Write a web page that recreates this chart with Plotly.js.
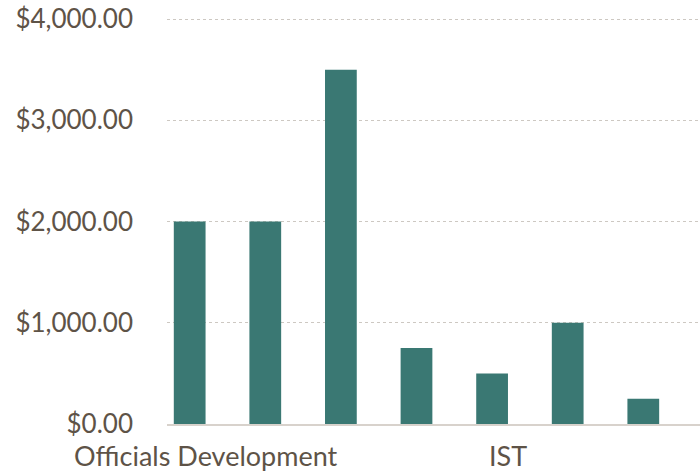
<!DOCTYPE html>
<html>
<head>
<meta charset="utf-8">
<script src="https://cdn.plot.ly/plotly-3.0.1.min.js"></script>
<style>html,body{margin:0;padding:0;background:#fff;}#chart{width:700px;height:475px;}</style>
</head>
<body>
<div id="chart"></div>
<script>
// Data
const barIndex = [0, 1, 2, 3, 4, 5, 6];
const amounts = [2000, 2000, 3500, 750, 500, 1000, 250];
const groupTickPositions = [0, 4];
const groupTickLabels = ["Officials Development", "IST"];
const yTickValues = [0, 1000, 2000, 3000, 4000];

const textColor = "#5e5347";
const fontFamily = "Lato, 'Open Sans', sans-serif";

Plotly.newPlot("chart", [{
  type: "bar",
  x: barIndex,
  y: amounts,
  marker: {color: "#3a7873"},
  hoverinfo: "y"
}], {
  width: 700,
  height: 475,
  margin: {l: 167, r: 0, t: 14, b: 51},
  paper_bgcolor: "#ffffff",
  plot_bgcolor: "#ffffff",
  bargap: 0.58,
  showlegend: false,
  font: {family: fontFamily, color: textColor, size: 26},
  xaxis: {
    range: [-0.3, 6.75],
    tickvals: groupTickPositions,
    ticktext: groupTickLabels,
    ticklabelshift: 16,
    ticklabelstandoff: 8,
    showgrid: false,
    zeroline: false,
    showline: true,
    linecolor: "#d8d2cc",
    linewidth: 2,
    ticks: "",
    tickfont: {family: fontFamily, color: textColor, size: 27}
  },
  yaxis: {
    range: [0, 4050],
    tickvals: yTickValues,
    tickformat: "$,.2f",
    ticks: "",
    ticklabelstandoff: 33,
    showgrid: true,
    gridcolor: "#cdc8c2",
    griddash: "dot",
    gridwidth: 1,
    zeroline: false,
    showline: false,
    tickfont: {family: fontFamily, color: textColor, size: 26}
  }
}, {staticPlot: true});
</script>
</body>
</html>
